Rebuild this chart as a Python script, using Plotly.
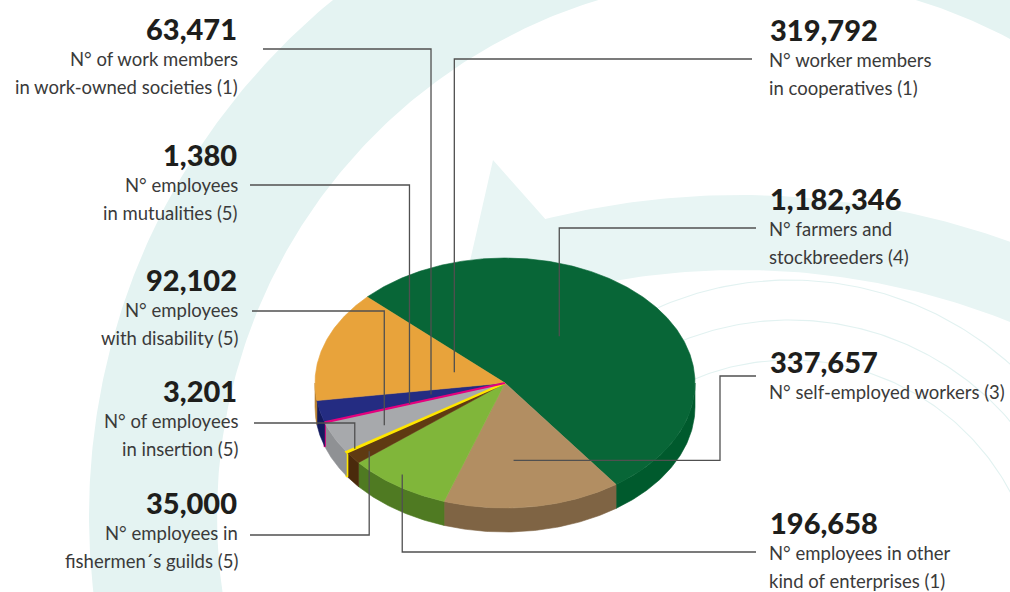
import numpy as np
import plotly.graph_objects as go

# ---------------- data ----------------
categories = [
    "N° farmers and|stockbreeders (4)",
    "N° self-employed workers (3)",
    "N° employees in other|kind of enterprises (1)",
    "N° employees in|fishermen´s guilds (5)",
    "N° of employees|in insertion (5)",
    "N° employees|with disability (5)",
    "N° employees|in mutualities (5)",
    "N° of work members|in work-owned societies (1)",
    "N° worker members|in cooperatives (1)",
]
values = [1182346, 337657, 196658, 35000, 3201, 92102, 1380, 63471, 319792]
top_colors = ["#086637", "#b28e62", "#80b63a", "#5f3a12", "#ffe600",
              "#a7a9ac", "#e5007e", "#242c82", "#e8a33b"]
side_colors = ["#005a2d", "#7f6444", "#4f7a22", "#4a2a0c", "#ffe600",
               "#8f9194", "#e5007e", "#131a5e", "#b98130"]

# ---------------- layout constants ----------------
W, H = 1010, 592
cx, cy, a, b, depth = 505, 383, 190, 125, 24
start_angle = 136.5
# label placement: side, text x, number y
label_side = ["R", "R", "R", "L", "L", "L", "L", "L", "R"]
label_x = [768, 768, 768, 239, 239, 239, 239, 239, 768]
label_y = [198, 361, 522, 502, 390, 279, 154, 28, 29]
# leader: (start x, start y, position inside slice (fraction), radius fraction, elbow x or None)
leader = [
    (756, 228, 0.44, 0.47, None),
    (756, 376, 0.58, 0.62, 720),
    (756, 552, 0.56, 0.91, None),
    (250, 535, 0.38, 0.90, None),
    (254, 423, 0.50, 0.95, None),
    (252, 311, 0.36, 0.72, None),
    (250, 185, 0.50, 0.53, None),
    (263, 49, 0.50, 0.40, None),
    (752, 59, 0.50, 0.28, None),
]

fr = np.array(values, dtype=float) / sum(values)
ends = start_angle - 360 * np.cumsum(fr)
starts = np.concatenate([[start_angle], ends[:-1]])


def pt(theta_deg, r=1.0, dz=0.0):
    t = np.radians(theta_deg)
    return cx + a * r * np.cos(t), cy - b * r * np.sin(t) + dz


fig = go.Figure()

# ---------------- background decoration ----------------
band_col = "#e4f3f2"
th = np.linspace(0, 360, 721)
bc = (757, 516)
xo = bc[0] + 668 * np.cos(np.radians(th))
yo = bc[1] - 668 * np.sin(np.radians(th))
xi = bc[0] + 540 * np.cos(np.radians(th[::-1]))
yi = bc[1] - 540 * np.sin(np.radians(th[::-1]))
fig.add_trace(go.Scatter(x=np.concatenate([xo, xi]), y=np.concatenate([yo, yi]),
                         fill="toself", fillcolor=band_col, mode="lines",
                         line=dict(width=0, color=band_col), hoverinfo="skip"))
sc = (740, 1000)
tho = np.linspace(104, 60, 120)
thi = np.linspace(60, 113, 120)
xs2 = np.concatenate([[493], sc[0] + 805 * np.cos(np.radians(tho)),
                      sc[0] + 730 * np.cos(np.radians(thi)), [493]])
ys2 = np.concatenate([[160], sc[1] - 805 * np.sin(np.radians(tho)),
                      sc[1] - 730 * np.sin(np.radians(thi)), [160]])
fig.add_trace(go.Scatter(x=xs2, y=ys2, fill="toself", fillcolor="#e8f5f4", mode="lines",
                         line=dict(width=0, color="#e8f5f4"), hoverinfo="skip"))
# faint rings
for rr in [250, 290, 330]:
    t2 = np.linspace(-40, 120, 200)
    fig.add_trace(go.Scatter(x=790 + rr * np.cos(np.radians(t2)), y=610 - rr * np.sin(np.radians(t2)),
                             mode="lines", line=dict(width=1.1, color="#e2f2f1"), hoverinfo="skip"))

# ---------------- pie side walls ----------------
for i, (s, e) in enumerate(zip(starts, ends)):
    for k in range(-2, 2):
        lo = max(e, -180 + 360 * k)
        hi = min(s, 360 * k)
        if hi > lo:
            tt = np.linspace(hi, lo, 80)
            x1, y1 = pt(tt)
            x2, y2 = pt(tt[::-1], dz=depth)
            lw = 2 if fr[i] < 0.005 else 0.6
            fig.add_trace(go.Scatter(x=np.concatenate([x1, x2, x1[:1]]),
                                     y=np.concatenate([y1, y2, y1[:1]]),
                                     fill="toself", fillcolor=side_colors[i], mode="lines",
                                     line=dict(width=lw, color=side_colors[i]), hoverinfo="skip"))

# ---------------- pie top faces ----------------
order = list(range(len(values)))
order = [i for i in order if fr[i] >= 0.005] + [i for i in order if fr[i] < 0.005]
for i in order:
    s, e = starts[i], ends[i]
    n = max(4, int(abs(s - e) * 2))
    tt = np.linspace(s, e, n)
    x1, y1 = pt(tt)
    lw = 2.2 if fr[i] < 0.005 else 0.6
    fig.add_trace(go.Scatter(x=np.concatenate([[cx], x1, [cx]]),
                             y=np.concatenate([[cy], y1, [cy]]),
                             fill="toself", fillcolor=top_colors[i], mode="lines",
                             line=dict(width=lw, color=top_colors[i]), hoverinfo="skip"))

# ---------------- leader lines ----------------
line_col = "#505050"
for i, (sx, sy, f, r, elbow) in enumerate(leader):
    ang = starts[i] + (ends[i] - starts[i]) * f
    ex, ey = pt(ang, r)
    if elbow is None:
        xs = [sx, ex, ex]
        ys = [sy, sy, ey]
    else:
        xs = [sx, elbow, elbow, ex]
        ys = [sy, sy, ey, ey]
    fig.add_trace(go.Scatter(x=xs, y=ys, mode="lines",
                             line=dict(width=1.3, color=line_col), hoverinfo="skip"))

# ---------------- labels ----------------
num_font = dict(family="Lato", size=29, color="#1e1e1c", weight=900)
txt_font = dict(family="Lato", size=18.5, color="#3a3a3a")
ann = []
for i, v in enumerate(values):
    anchor = "left" if label_side[i] == "R" else "right"
    ann.append(dict(x=label_x[i], y=label_y[i], xref="x", yref="y", text=f"{v:,}",
                    showarrow=False, xanchor=anchor, yanchor="middle", font=num_font))
    for j, ln in enumerate(categories[i].split("|")):
        ann.append(dict(x=label_x[i], y=label_y[i] + 31 + 28 * j, xref="x", yref="y", text=ln,
                        showarrow=False, xanchor=anchor, yanchor="middle", font=txt_font,
                        borderpad=0))

fig.update_layout(
    width=W, height=H, margin=dict(l=0, r=0, t=0, b=0),
    paper_bgcolor="white", plot_bgcolor="white", showlegend=False,
    xaxis=dict(range=[0, W], visible=False, fixedrange=True),
    yaxis=dict(range=[H, 0], visible=False, fixedrange=True),
    annotations=ann,
)
fig.write_html("out.html", config={"displayModeBar": False},
               post_script="document.body.style.margin='0px';document.body.style.overflow='hidden';")
